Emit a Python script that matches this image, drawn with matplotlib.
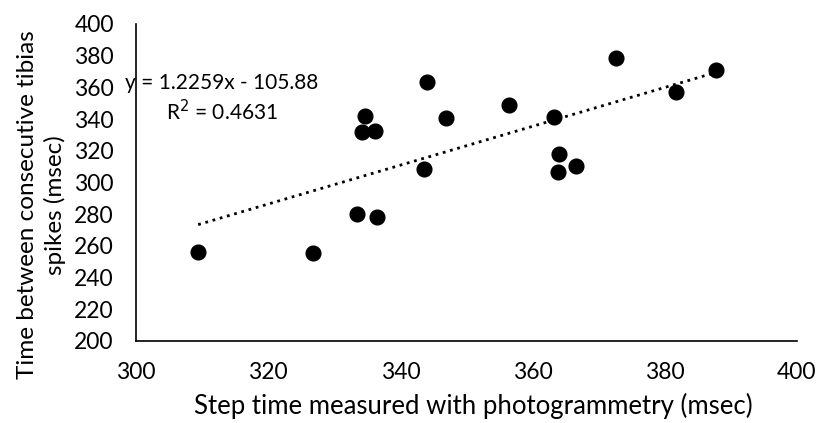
import numpy as np
import matplotlib
matplotlib.use("Agg")
from matplotlib import pyplot as plt

# step time from photogrammetry (msec) vs time between tibias spikes (msec)
stepTime = [309.4, 326.8, 333.4, 336.5, 334.7, 334.2, 336.2, 344.0, 346.9,
            343.6, 356.4, 363.3, 364.0, 363.8, 366.6, 372.6, 381.7, 387.7]
spikeTime = [256.2, 255.5, 280.1, 278.2, 342.0, 331.9, 332.5, 363.4, 340.7,
             308.5, 348.9, 341.3, 318.0, 306.6, 310.4, 378.5, 357.1, 371.0]

# linear trendline as printed on the chart
slope = 1.2259
intercept = -105.88
rSquared = 0.4631

xTicks = [300, 320, 340, 360, 380, 400]
yTicks = [200, 220, 240, 260, 280, 300, 320, 340, 360, 380, 400]

plt.rcParams['font.family'] = ['Lato', 'DejaVu Sans']

fig = plt.figure(figsize=(8.17, 4.23), dpi=100)
ax = fig.add_axes([0.1665, 0.1939, 0.809, 0.7494])

ax.scatter(stepTime, spikeTime, s=112, color='black', zorder=3)

xLine = np.array([min(stepTime), max(stepTime)])
ax.plot(xLine, slope*xLine + intercept, color='black', lw=2.0,
        linestyle=(0, (1, 1.7)), zorder=2)

ax.text(0.13, 0.765, "y = {}x - {}\nR$^2$ = {}".format(slope, -intercept, rSquared),
        transform=ax.transAxes, ha='center', va='center', fontsize=15,
        linespacing=1.3, zorder=4)

ax.set_xlim(300, 400)
ax.set_ylim(200, 400)
ax.set_xticks(xTicks)
ax.set_yticks(yTicks)
ax.tick_params(axis='y', length=0, labelsize=16.5, pad=16)
ax.tick_params(axis='x', length=0, labelsize=16.5, pad=15)
ax.spines['top'].set_visible(False)
ax.spines['right'].set_visible(False)
for s in ['left', 'bottom']:
    ax.spines[s].set_linewidth(1.2)

ax.set_xlabel("Step time measured with photogrammetry (msec)", fontsize=18.5)
ax.xaxis.set_label_coords(0.51, -0.165)
ax.set_ylabel("Time between consecutive tibias\nspikes (msec)", fontsize=17.5,
              linespacing=1.3)
ax.yaxis.set_label_coords(-0.106, 0.429)

plt.savefig("out.png", dpi=100)
